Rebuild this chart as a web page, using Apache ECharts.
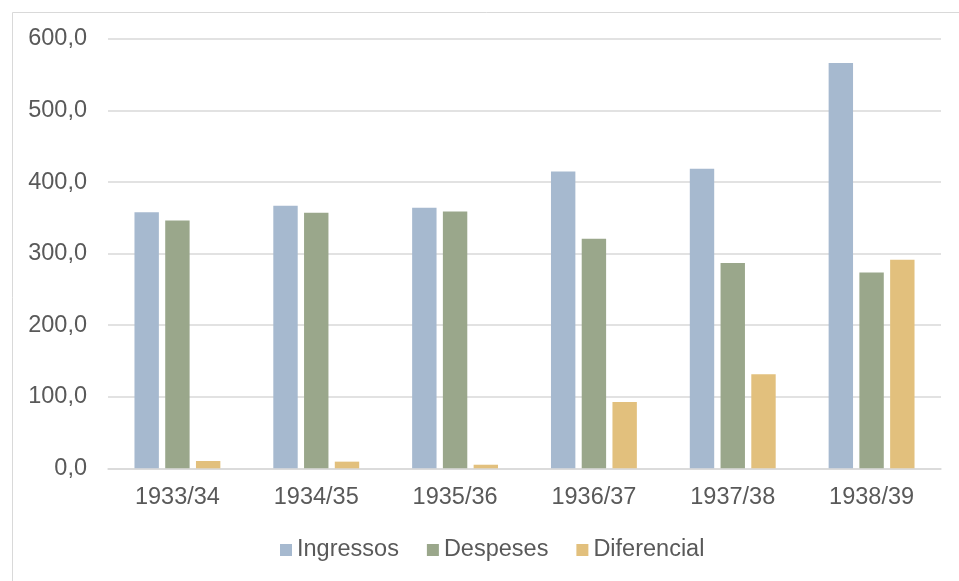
<!DOCTYPE html>
<html>
<head>
<meta charset="utf-8">
<script src="https://cdn.jsdelivr.net/npm/echarts@6/dist/echarts.min.js"></script>
<style>
html,body{margin:0;padding:0;background:#fff;}
#chart{width:959px;height:581px;}
</style>
</head>
<body>
<div id="chart"></div>
<script>
const categories = ['1933/34', '1934/35', '1935/36', '1936/37', '1937/38', '1938/39'];
const ingressos = [358, 366.8, 364, 414.8, 418.6, 566.4];
const despeses = [346.3, 357, 359, 320.7, 287, 273.6];
const diferencial = [10.2, 9.3, 5, 92.7, 131.4, 291.3];
const yTicks = [0, 100, 200, 300, 400, 500, 600];

const FONT = '"Liberation Sans", Arial, sans-serif';
const TXT = '#595959';
const chart = echarts.init(document.getElementById('chart'), null, {renderer: 'canvas'});
chart.setOption({
  animation: false,
  backgroundColor: '#fff',
  textStyle: {fontFamily: FONT},
  graphic: [{
    type: 'rect', left: 10, top: 10, silent: true,
    shape: {x: 0, y: 0, width: 1000, height: 620},
    style: {fill: 'none', stroke: '#d9d9d9', lineWidth: 1}
  }],
  grid: {left: 108, right: 18, top: 39, bottom: 112.7, containLabel: false},
  legend: {
    left: 275, top: 533,
    icon: 'rect', itemWidth: 12, itemHeight: 12, itemGap: 28,
    textStyle: {fontFamily: FONT, fontSize: 23.5, color: TXT, padding: [0, 0, 0, 0]},
    data: ['Ingressos', 'Despeses', 'Diferencial']
  },
  xAxis: {
    type: 'category', data: categories,
    axisLine: {lineStyle: {color: '#d9d9d9', width: 1.5}},
    axisTick: {show: false},
    axisLabel: {fontFamily: FONT, fontSize: 23.5, color: TXT, margin: 17}
  },
  yAxis: {
    type: 'value', min: yTicks[0], max: yTicks[yTicks.length - 1], interval: 100,
    axisLine: {show: false}, axisTick: {show: false},
    splitLine: {lineStyle: {color: '#d9d9d9', width: 1.5}},
    axisLabel: {
      fontFamily: FONT, fontSize: 23.5, color: TXT, margin: 21,
      formatter: v => v.toFixed(1).replace('.', ',')
    }
  },
  series: [
    {name: 'Ingressos', type: 'bar', data: ingressos, barWidth: 24.4, barGap: '26%',
     itemStyle: {color: '#a6b9cf'}},
    {name: 'Despeses', type: 'bar', data: despeses, barWidth: 24.4, barGap: '26%',
     itemStyle: {color: '#9aa78b'}},
    {name: 'Diferencial', type: 'bar', data: diferencial, barWidth: 24.4, barGap: '26%',
     itemStyle: {color: '#e2c07d'}}
  ]
});
</script>
</body>
</html>
